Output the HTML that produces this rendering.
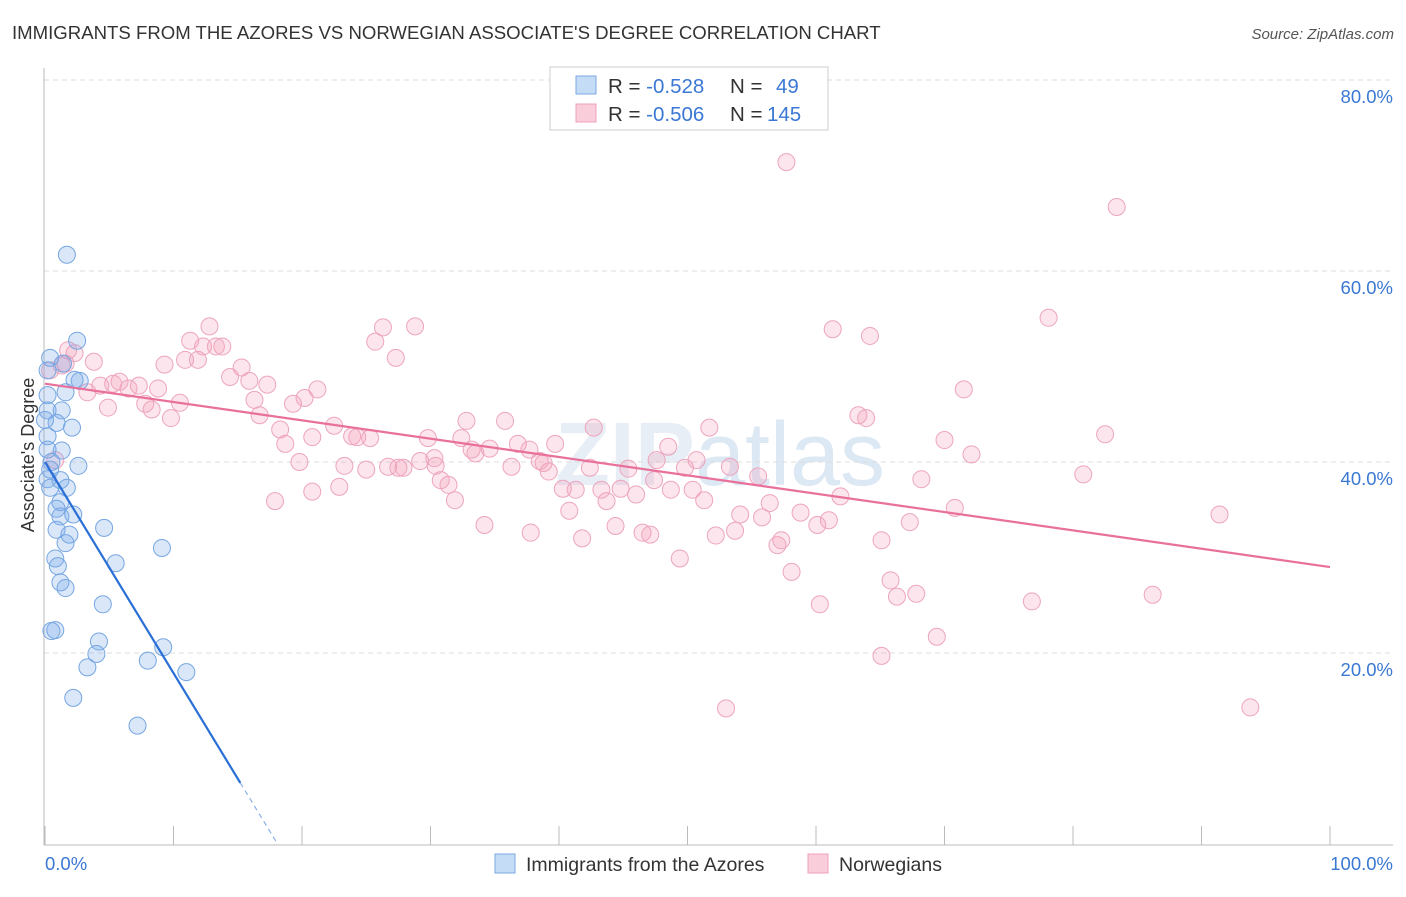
<!DOCTYPE html>
<html><head><meta charset="utf-8"><style>
body{margin:0;background:#fff;font-family:"Liberation Sans",sans-serif}
</style></head><body>
<svg width="1406" height="892" xmlns="http://www.w3.org/2000/svg" id="svg">
<text x="12" y="39" font-size="18.6" fill="#333">IMMIGRANTS FROM THE AZORES VS NORWEGIAN ASSOCIATE'S DEGREE CORRELATION CHART</text>
<text x="1394" y="39" font-size="15" fill="#555" font-style="italic" text-anchor="end">Source: ZipAtlas.com</text>
<text x="720" y="485" font-size="90" fill="#e8eef5" text-anchor="middle" font-weight="bold">ZIP<tspan font-weight="normal" fill="#dde8f5">atlas</tspan></text>
<g id="grid"></g>
<line x1="44" y1="68" x2="44" y2="845" stroke="#bbb"/>
<line x1="44" y1="845" x2="1393" y2="845" stroke="#bbb"/>
<text transform="translate(34,455) rotate(-90)" font-size="18" fill="#333" text-anchor="middle">Associate's Degree</text>
<g id="pts"></g>
<g id="lines"></g>
<g>
<rect x="550" y="67" width="278" height="63" fill="#fff" stroke="#ccc"/>
<rect x="576" y="76" width="20" height="18" fill="#c5dcf7" stroke="#7aa8e0"/>
<rect x="576" y="104" width="20" height="18" fill="#f9cdda" stroke="#eea0ba"/>
<text x="608" y="93" font-size="20.5" fill="#333">R = <tspan fill="#3a78d4">-0.528</tspan><tspan x="730">N = </tspan><tspan x="776" fill="#3a78d4">49</tspan></text>
<text x="608" y="121" font-size="20.5" fill="#333">R = <tspan fill="#3a78d4">-0.506</tspan><tspan x="730">N = </tspan><tspan x="767" fill="#3a78d4">145</tspan></text>
</g>
<text x="45" y="870" font-size="18.5" fill="#3a78d4">0.0%</text>
<text x="1393" y="870" font-size="18.5" fill="#3a78d4" text-anchor="end">100.0%</text>
<g>
<rect x="495" y="854" width="20" height="19" fill="#c5dcf7" stroke="#7aa8e0"/>
<text x="526" y="871" font-size="19.5" fill="#333">Immigrants from the Azores</text>
<rect x="808" y="854" width="20" height="19" fill="#f9cdda" stroke="#eea0ba"/>
<text x="839" y="871" font-size="19.5" fill="#333">Norwegians</text>
</g>
</svg>
<script>
const yTicks=[20,40,60,80];
const yTickLabels=["20.0%","40.0%","60.0%","80.0%"];
const xTicks=[0,10,20,30,40,50,60,70,80,90,100];
const blueX=[1.7,2.5,0.4,1.4,0.2,2.7,1.6,1.3,0.2,0.9,2.1,0.2,1.3,2.6,0.5,0.2,1.7,0.4,1.2,0.9,1.2,2.2,4.6,1.9,1.6,0.8,1.0,5.5,1.2,1.6,9.1,4.5,0.8,0.5,4.2,4.0,9.2,8.0,3.3,11.0,2.2,7.2,0.0,0.2,0.4,1.2,0.9,0.2,2.3];
const blueY=[61.7,52.7,50.9,50.3,49.6,48.5,47.3,45.4,45.4,44.1,43.6,42.7,41.2,39.6,40.0,38.2,37.3,37.3,35.8,35.1,34.3,34.5,33.1,32.4,31.5,29.9,29.1,29.4,27.4,26.8,31.0,25.1,22.4,22.3,21.2,19.9,20.6,19.2,18.5,18.0,15.3,12.4,44.4,41.3,39.2,38.1,32.9,47.0,48.6];
const pinkX=[57.7,83.4,78.1,61.3,64.2,26.3,28.8,12.8,11.3,13.8,12.3,13.3,25.7,27.3,10.9,11.9,2.3,3.8,1.6,9.3,15.3,14.4,15.9,17.3,21.2,5.8,4.3,6.5,7.3,8.8,5.3,3.3,16.3,20.2,10.5,7.8,4.9,8.3,9.8,16.7,19.3,71.5,63.3,63.9,32.8,35.8,22.5,18.3,20.8,23.9,24.3,25.3,29.8,32.4,34.6,36.8,39.7,42.7,51.7,48.5,70.0,82.5,18.7,33.5,33.2,37.7,30.3,19.8,23.3,25.0,26.7,27.5,27.9,29.2,30.4,36.3,38.5,38.8,39.2,42.4,45.4,47.6,50.7,53.3,49.8,55.5,72.1,80.8,68.2,22.9,20.8,30.8,31.4,31.9,40.3,41.3,43.3,44.8,46.0,48.7,50.4,51.3,47.4,43.7,17.9,61.9,56.4,40.8,54.1,55.8,58.8,61.0,60.1,34.2,37.8,44.4,46.5,47.1,41.8,52.2,53.7,57.0,57.3,65.1,67.3,70.8,91.4,49.4,58.1,65.8,66.3,67.8,76.8,86.2,60.3,69.4,65.1,53.0,93.8,0.4,1.3,0.8,1.8];
const pinkY=[71.4,66.7,55.1,53.9,53.2,54.1,54.2,54.2,52.7,52.1,52.1,52.1,52.6,50.9,50.7,50.7,51.4,50.5,50.3,50.2,49.9,48.9,48.5,48.1,47.6,48.4,48.0,47.7,48.0,47.7,48.2,47.3,46.5,46.7,46.2,46.1,45.7,45.5,44.6,44.9,46.1,47.6,44.9,44.6,44.3,44.3,43.8,43.4,42.6,42.7,42.6,42.5,42.5,42.5,41.4,41.9,41.9,43.6,43.6,41.6,42.3,42.9,41.9,40.9,41.3,41.3,40.4,40.0,39.6,39.2,39.5,39.4,39.4,40.1,39.6,39.5,40.1,39.9,39.0,39.4,39.3,40.2,40.2,39.5,39.4,38.5,40.8,38.7,38.2,37.4,36.9,38.1,37.6,36.0,37.2,37.1,37.1,37.2,36.6,37.1,37.1,36.0,38.1,35.9,35.9,36.4,35.7,34.9,34.5,34.2,34.7,33.9,33.4,33.4,32.6,33.3,32.6,32.4,32.0,32.3,32.8,31.3,31.8,31.8,33.7,35.2,34.5,29.9,28.5,27.6,25.9,26.2,25.4,26.1,25.1,21.7,19.7,14.2,14.3,49.6,50.1,40.2,51.7];
const X0=45,X1=1330,Y0=844,YS=9.55;
const xs=v=>X0+(X1-X0)*v/100, ys=v=>Y0-v*YS;
const NS="http://www.w3.org/2000/svg";
function mk(t,a,p){const e=document.createElementNS(NS,t);for(const k in a)e.setAttribute(k,a[k]);p.appendChild(e);return e;}
const grid=document.getElementById('grid');
yTicks.forEach((t,i)=>{
 const l=mk('line',{x1:44,x2:1393,y1:ys(t),y2:ys(t),stroke:'#ddd','stroke-dasharray':'5,4'},grid);
 
 
 const tx=mk('text',{x:1393,y:ys(t)+23,'font-size':18.5,fill:'#3a78d4','text-anchor':'end'},grid);
 tx.textContent=yTickLabels[i];
 
 
});
xTicks.forEach(t=>{
 const l=mk('line',{x1:xs(t),x2:xs(t),y1:826,y2:845,stroke:'#bbb'},grid);
 
 
});
const pts=document.getElementById('pts');
pinkX.forEach((v,i)=>{
 const c=mk('circle',{cx:xs(v),cy:ys(pinkY[i]),r:8.5,fill:'rgba(244,160,188,0.28)',stroke:'#eda5bd','stroke-width':1},pts);
 
 
});
blueX.forEach((v,i)=>{
 const c=mk('circle',{cx:xs(v),cy:ys(blueY[i]),r:8.5,fill:'rgba(120,170,235,0.28)',stroke:'#76a6e2','stroke-width':1},pts);
 
 
});
const lines=document.getElementById('lines');
const bl=mk('line',{x1:xs(0),y1:ys(40),x2:xs(15.2),y2:ys(6.4),stroke:'#2a6fd6','stroke-width':2.2},lines);


const bd=mk('line',{x1:xs(15.2),y1:ys(6.4),x2:xs(18.1),y2:ys(0),stroke:'#8ab0e8','stroke-width':1.2,'stroke-dasharray':'5,4'},lines);


const pl=mk('line',{x1:xs(0),y1:ys(48.2),x2:xs(100),y2:ys(29.0),stroke:'#e8709a','stroke-width':2.2},lines);


</script>
</body></html>
